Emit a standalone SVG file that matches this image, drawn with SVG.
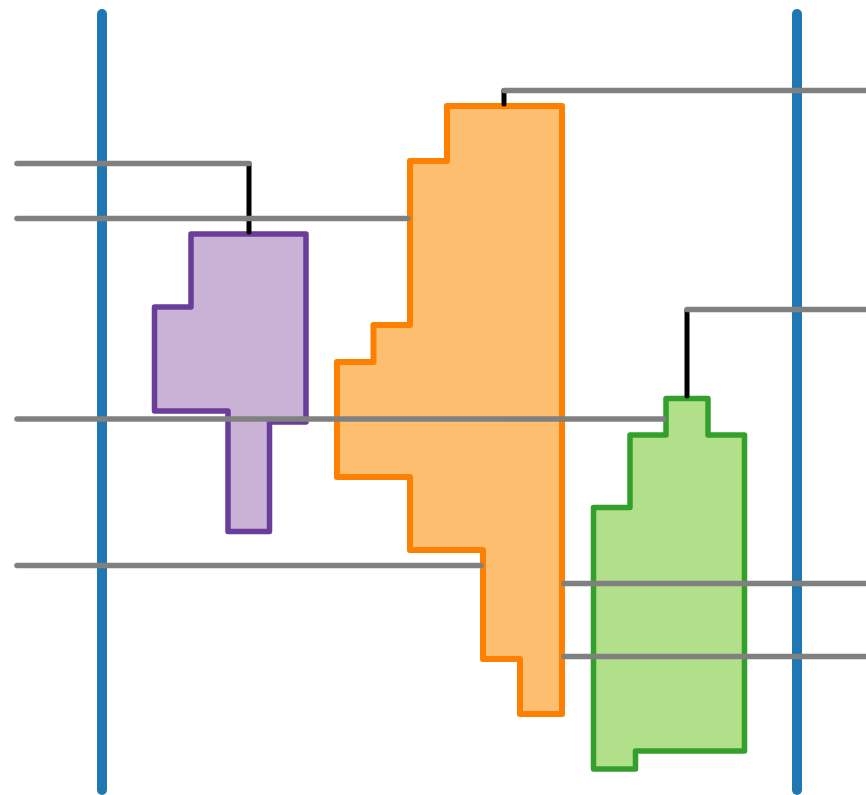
<svg xmlns="http://www.w3.org/2000/svg" width="866" height="795" viewBox="0 0 866 795">
<style>
.axis{stroke:#1f77b4;stroke-width:10;stroke-linecap:round;fill:none}
.box{stroke-linejoin:round}
.purple{fill:#cab2d6;stroke:#6a3d9a;stroke-width:5.5}
.orange{fill:#fdbf6f;stroke:#ff7f00;stroke-width:6}
.green{fill:#b2df8a;stroke:#33a02c;stroke-width:5.5}
.stem{stroke:#000;stroke-width:5;stroke-linecap:round;fill:none}
.link{stroke:#808080;stroke-width:5.5;stroke-linecap:round;fill:none}
</style>
<rect width="866" height="795" fill="#fff"/>
<g id="axes">
<line class="axis" x1="102" y1="14" x2="102" y2="790"/>
<line class="axis" x1="797" y1="14" x2="797" y2="790"/>
</g>
<g id="node-purple">
<polygon class="box purple" points="191,234 306,234 306,422 269.5,422 269.5,531.5 228,531.5 228,411 154.5,411 154.5,307 191,307"/>
</g>
<g id="node-orange">
<polygon class="box orange" points="447,106 562,106 562,714 520,714 520,659 483,659 483,550 410,550 410,477 337,477 337,362 373.5,362 373.5,325 410,325 410,161 447,161"/>
</g>
<g id="node-green">
<polygon class="box green" points="666,398.5 708,398.5 708,435 744.5,435 744.5,751 635.5,751 635.5,769 593.5,769 593.5,507.5 630,507.5 630,435 666,435"/>
</g>
<g id="connectors">
<line class="stem" x1="249" y1="163.5" x2="249" y2="232"/>
<line class="stem" x1="504" y1="90.5" x2="504" y2="104"/>
<line class="stem" x1="687" y1="310" x2="687" y2="396"/>
<path class="link" d="M17,163.5 H249"/>
<path class="link" d="M17,218.5 H408"/>
<path class="link" d="M17,419 H664"/>
<path class="link" d="M17,565.5 H481"/>
<path class="link" d="M504,90.5 H870"/>
<path class="link" d="M687,309.5 H870"/>
<path class="link" d="M564,583.5 H870"/>
<path class="link" d="M564,656.5 H870"/>
</g>
</svg>
